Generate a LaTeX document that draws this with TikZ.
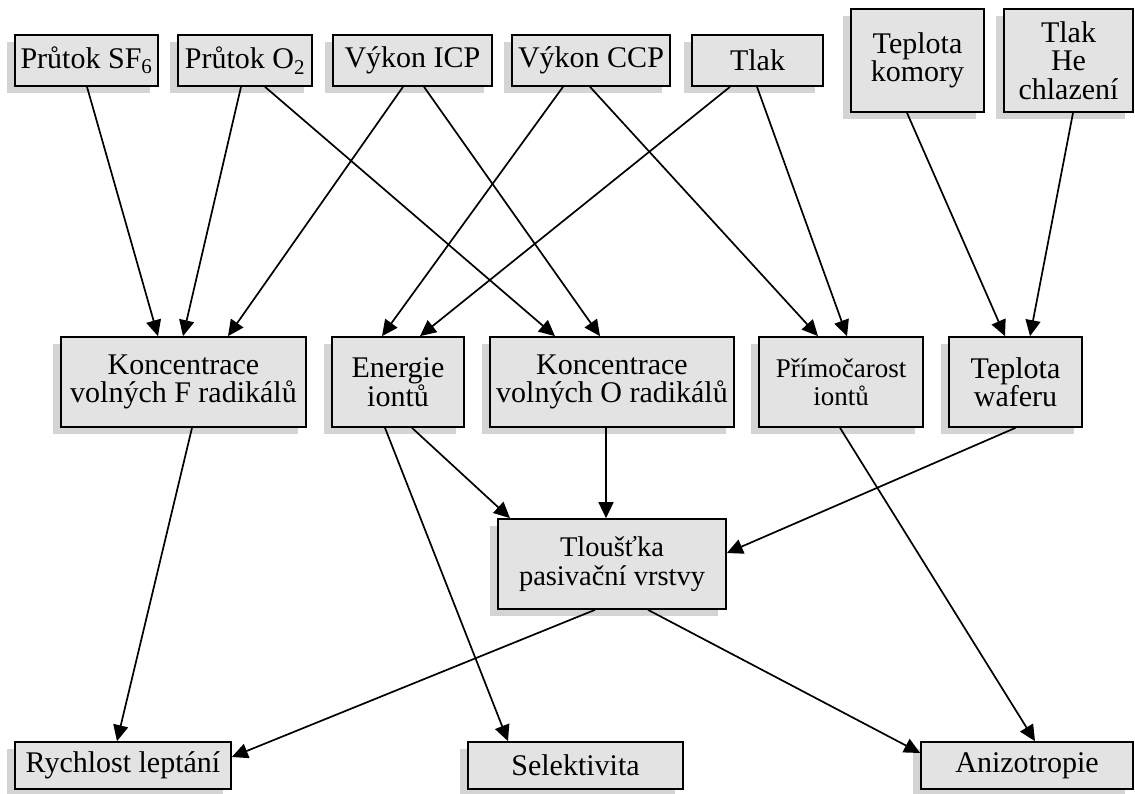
\documentclass[tikz,border=0pt]{standalone}
\usepackage{fontspec}
\setmainfont{Liberation Serif}
\usetikzlibrary{arrows.meta,shadows,calc}
\definecolor{boxfill}{gray}{0.89}
\definecolor{shd}{gray}{0.83}
\begin{document}
\begin{tikzpicture}[x=1pt,y=1pt,
  box/.style={draw=black, line width=1.7pt, fill=boxfill, inner sep=0pt, align=center,
    font=\fontsize{30}{28.5}\selectfont,
    drop shadow={shadow xshift=-8pt, shadow yshift=-7pt, opacity=1, fill=shd}},
  conn/.style={line width=1.7pt, -{Triangle[length=16pt,width=15pt]}}]
\useasboundingbox (0,0) rectangle (1135,793);
% top row
\node[box, minimum width=143pt, minimum height=51pt] (sf6) at (86.5,732.5) {Průtok SF\textsubscript{6}};
\node[box, minimum width=134pt, minimum height=51pt] (o2) at (245,732.5) {Průtok O\textsubscript{2}};
\node[box, minimum width=159pt, minimum height=51pt] (icp) at (412.5,732.5) {Výkon ICP};
\node[box, minimum width=158pt, minimum height=51pt] (ccp) at (591,732.5) {Výkon CCP};
\node[box, minimum width=131pt, minimum height=51pt] (tlak) at (757.5,732.5) {Tlak};
\node[box, minimum width=133pt, minimum height=103pt] (tk) at (917.5,732.5) {Teplota\\komory};
\node[box, minimum width=129pt, minimum height=103pt] (he) at (1068.5,732.5) {Tlak\\He\\chlazení};
% middle row
\node[box, minimum width=245pt, minimum height=90pt] (kf) at (183.5,411) {Koncentrace\\volných F radikálů};
\node[box, minimum width=132pt, minimum height=90pt] (en) at (398,411) {Energie\\iontů};
\node[box, minimum width=244pt, minimum height=90pt] (ko) at (612,411) {Koncentrace\\volných O radikálů};
\node[box, minimum width=164pt, minimum height=90pt, font=\fontsize{27}{28.5}\selectfont] (pr) at (841,411) {Přímočarost\\iontů};
\node[box, minimum width=133pt, minimum height=90pt] (tw) at (1015.5,411) {Teplota\\waferu};
% passivation
\node[box, minimum width=228pt, minimum height=90pt, font=\fontsize{28.5}{28.5}\selectfont] (tl) at (612,229) {Tloušťka\\pasivační vrstvy};
% bottom row
\node[box, minimum width=216pt, minimum height=47pt] (ry) at (123,27.5) {Rychlost leptání};
\node[box, minimum width=215pt, minimum height=47pt] (se) at (575.5,27.5) {Selektivita};
\node[box, minimum width=212pt, minimum height=47pt] (an) at (1027,27.5) {Anizotropie};
% connectors
\draw[conn] ([xshift=0.5pt]sf6.south) -- ([xshift=-25.5pt]kf.north);
\draw[conn] ([xshift=-4pt]o2.south) -- ([xshift=-0.5pt]kf.north);
\draw[conn] ([xshift=20pt]o2.south) -- ([xshift=-57pt]ko.north);
\draw[conn] ([xshift=-9.5pt]icp.south) -- ([xshift=44.5pt]kf.north);
\draw[conn] ([xshift=11.5pt]icp.south) -- ([xshift=-12pt]ko.north);
\draw[conn] ([xshift=-28pt]ccp.south) -- ([xshift=-16pt]en.north);
\draw[conn] ([xshift=-1pt]ccp.south) -- ([xshift=-23pt]pr.north);
\draw[conn] ([xshift=-27.5pt]tlak.south) -- ([xshift=22pt]en.north);
\draw[conn] ([xshift=-0.5pt]tlak.south) -- ([xshift=6pt]pr.north);
\draw[conn] ([xshift=-10.5pt]tk.south) -- ([xshift=-10.5pt]tw.north);
\draw[conn] ([xshift=4.5pt]he.south) -- ([xshift=14.5pt]tw.north);
\draw[conn] ([xshift=8.5pt]kf.south) -- ([xshift=-6pt]ry.north);
\draw[conn] ([xshift=-13pt]en.south) -- ([xshift=-67.5pt]se.north);
\draw[conn] ([xshift=14pt]en.south) -- ([xshift=-102pt]tl.north);
\draw[conn] ([xshift=-6pt]ko.south) -- ([xshift=-6pt]tl.north);
\draw[conn] (tw.south) -- ([yshift=11pt]tl.east);
\draw[conn] ([xshift=-1pt]pr.south) -- ([xshift=8pt]an.north);
\draw[conn] ([xshift=-17pt]tl.south) -- ([yshift=8.5pt]ry.east);
\draw[conn] ([xshift=36pt]tl.south) -- ([yshift=12.5pt]an.west);
\end{tikzpicture}
\end{document}
